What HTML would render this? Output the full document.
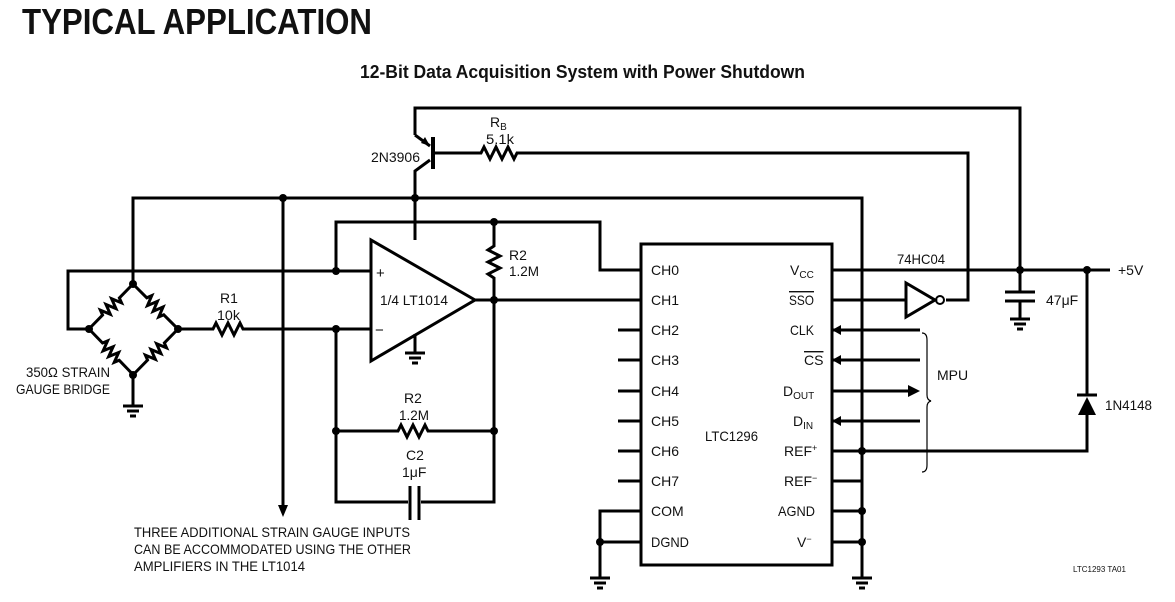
<!DOCTYPE html>
<html><head><meta charset="utf-8"><style>
html,body{margin:0;padding:0;background:#fff;}
svg{display:block;}
text{font-family:"Liberation Sans",sans-serif;fill:#111;}
</style></head><body>
<svg width="1175" height="602" viewBox="0 0 1175 602" xmlns="http://www.w3.org/2000/svg">
<defs>
<path id="arm" d="M0,0 H19.5 l2,-5 4,10 4,-10 4,10 4,-10 4,10 2,-5 H63" stroke="#000" stroke-width="3" fill="none"/>
</defs>
<text x="22" y="34" font-size="36" font-weight="bold" textLength="350" lengthAdjust="spacingAndGlyphs">TYPICAL APPLICATION</text>
<text x="360" y="78" font-size="18" font-weight="bold" textLength="445" lengthAdjust="spacingAndGlyphs">12-Bit Data Acquisition System with Power Shutdown</text>
<g stroke="#000" stroke-width="3" fill="none" stroke-linejoin="miter">
<!-- top wire -->
<polyline points="415,135 415,108 1020,108 1020,270"/>
<!-- transistor -->
<line x1="415" y1="135" x2="430" y2="146"/>
<line x1="433" y1="137" x2="433" y2="169" stroke-width="4"/>
<polyline points="430,160 415,171 415,240"/>
<polyline points="433,153 481,153 484,147 490,159 496,147 502,159 508,147 514,159 517,153 968,153 968,300 946,300"/>
<!-- y=198 bus -->
<polyline points="133,284 133,198 862,198 862,578"/>
<line x1="283" y1="198" x2="283" y2="505"/>
<!-- bridge ground -->
<polyline points="133,375 133,405"/>
<line x1="123" y1="406" x2="143" y2="406"/><line x1="127" y1="411" x2="139" y2="411"/><line x1="130" y1="416" x2="136" y2="416"/>
<!-- + input -->
<polyline points="89,329 68,329 68,271 372,271"/>
<polyline points="336,271 336,222 600,222 600,270 640,270"/>
<polyline points="494,222 494,246 488,250 500,256 488,262 500,268 488,274 494,278 494,300"/>
<!-- - input -->
<polyline points="178,329 213,329 216,323 222,335 228,323 234,335 240,323 243,329 372,329"/>
<polyline points="336,329 336,502 408,502"/>
<line x1="410" y1="486" x2="410" y2="520"/><line x1="419" y1="486" x2="419" y2="520"/>
<polyline points="421,502 494,502 494,300"/>
<polyline points="336,431 398,431 401,425 407,437 413,425 419,437 425,425 428,431 494,431"/>
<!-- opamp -->
<polygon points="371,240 371,361 475,300"/>
<line x1="475" y1="300" x2="640" y2="300"/>
<polyline points="415,334 415,352"/>
<line x1="405" y1="353" x2="425" y2="353"/><line x1="409" y1="358" x2="421" y2="358"/><line x1="412" y1="363" x2="418" y2="363"/>
<!-- chip -->
<rect x="641" y="244" width="191" height="321"/>
<line x1="618" y1="330" x2="641" y2="330"/>
<line x1="618" y1="360" x2="641" y2="360"/>
<line x1="618" y1="391" x2="641" y2="391"/>
<line x1="618" y1="421" x2="641" y2="421"/>
<line x1="618" y1="451" x2="641" y2="451"/>
<line x1="618" y1="481" x2="641" y2="481"/>
<polyline points="641,511 600,511 600,578"/>
<line x1="600" y1="542" x2="641" y2="542"/>
<line x1="590" y1="578" x2="610" y2="578"/><line x1="594" y1="583" x2="606" y2="583"/><line x1="597" y1="588" x2="603" y2="588"/>
<line x1="852" y1="578" x2="872" y2="578"/><line x1="856" y1="583" x2="868" y2="583"/><line x1="859" y1="588" x2="865" y2="588"/>
<polyline points="832,481 862,481"/>
<line x1="832" y1="511" x2="862" y2="511"/>
<line x1="832" y1="542" x2="862" y2="542"/>
<!-- right side -->
<line x1="832" y1="270" x2="1110" y2="270"/>
<line x1="832" y1="300" x2="905" y2="300"/>
<polygon points="906,283 906,317 935,300"/>
<circle cx="940" cy="300" r="4" stroke-width="2"/>
<line x1="832" y1="330" x2="920" y2="330"/>
<line x1="832" y1="360" x2="920" y2="360"/>
<line x1="832" y1="391" x2="908" y2="391"/>
<line x1="832" y1="421" x2="920" y2="421"/>
<polyline points="832,451 1087,451 1087,415"/>
<line x1="1087" y1="395" x2="1087" y2="270"/>
<line x1="1077" y1="395" x2="1097" y2="395"/>
<!-- 47uF -->
<line x1="1020" y1="270" x2="1020" y2="292"/>
<line x1="1005" y1="292" x2="1035" y2="292"/><line x1="1005" y1="301" x2="1035" y2="301"/>
<line x1="1020" y1="301" x2="1020" y2="318"/>
<line x1="1010" y1="319" x2="1030" y2="319"/><line x1="1014" y1="324" x2="1026" y2="324"/><line x1="1017" y1="329" x2="1023" y2="329"/>
</g>
<!-- bridge arms -->
<use href="#arm" transform="translate(133,284) rotate(134.4)"/>
<use href="#arm" transform="translate(133,284) rotate(45)"/>
<use href="#arm" transform="translate(89,329) rotate(46)"/>
<use href="#arm" transform="translate(178,329) rotate(134.4)"/>
<!-- brace -->
<path d="M922,333 Q927,333 927,340 L927,395 Q927,400 931,401 Q927,402 927,407 L927,465 Q927,472 922,472" stroke="#000" stroke-width="1.2" fill="none"/>
<g fill="#000">
<polygon points="1087,397 1078,415 1096,415"/>
<polygon points="832,330 841,325 841,335"/>
<polygon points="832,360 841,355 841,365"/>
<polygon points="920,391 908,385 908,397"/>
<polygon points="832,421 841,416 841,426"/>
<polygon points="283,517 278,505 288,505"/>
<polygon points="430,146 421,143 425,137"/>
<circle cx="283" cy="198" r="4"/><circle cx="415" cy="198" r="4"/>
<circle cx="133" cy="284" r="4"/><circle cx="89" cy="329" r="4"/><circle cx="178" cy="329" r="4"/><circle cx="133" cy="375" r="4"/>
<circle cx="336" cy="271" r="4"/><circle cx="336" cy="329" r="4"/><circle cx="494" cy="222" r="4"/><circle cx="494" cy="300" r="4"/>
<circle cx="336" cy="431" r="4"/><circle cx="494" cy="431" r="4"/>
<circle cx="1020" cy="270" r="4"/><circle cx="1087" cy="270" r="4"/>
<circle cx="862" cy="451" r="4"/><circle cx="862" cy="511" r="4"/><circle cx="862" cy="542" r="4"/><circle cx="600" cy="542" r="4"/>
</g>
<g font-size="14">
<text x="371" y="162" textLength="49" lengthAdjust="spacingAndGlyphs">2N3906</text>
<text x="490" y="127">R<tspan font-size="10" dy="3">B</tspan></text>
<text x="486" y="144" textLength="28" lengthAdjust="spacingAndGlyphs">5.1k</text>
<text x="509" y="260">R2</text>
<text x="509" y="276" textLength="30" lengthAdjust="spacingAndGlyphs">1.2M</text>
<text x="220" y="303">R1</text>
<text x="217" y="320" textLength="23" lengthAdjust="spacingAndGlyphs">10k</text>
<text x="380" y="305" textLength="68" lengthAdjust="spacingAndGlyphs">1/4 LT1014</text>
<text x="376" y="278" font-size="15">+</text>
<text x="375" y="335" font-size="15">−</text>
<text x="26" y="377" textLength="84" lengthAdjust="spacingAndGlyphs">350Ω STRAIN</text>
<text x="16" y="394" textLength="94" lengthAdjust="spacingAndGlyphs">GAUGE BRIDGE</text>
<text x="404" y="403">R2</text>
<text x="399" y="420" textLength="30" lengthAdjust="spacingAndGlyphs">1.2M</text>
<text x="406" y="460">C2</text>
<text x="402" y="477">1μF</text>
<text x="134" y="537" textLength="276" lengthAdjust="spacingAndGlyphs">THREE ADDITIONAL STRAIN GAUGE INPUTS</text>
<text x="134" y="554" textLength="277" lengthAdjust="spacingAndGlyphs">CAN BE ACCOMMODATED USING THE OTHER</text>
<text x="134" y="571" textLength="171" lengthAdjust="spacingAndGlyphs">AMPLIFIERS IN THE LT1014</text>
<text x="651" y="275">CH0</text><text x="651" y="305">CH1</text><text x="651" y="335">CH2</text><text x="651" y="365">CH3</text>
<text x="651" y="396">CH4</text><text x="651" y="426">CH5</text><text x="651" y="456">CH6</text><text x="651" y="486">CH7</text>
<text x="651" y="516">COM</text><text x="651" y="547" textLength="38" lengthAdjust="spacingAndGlyphs">DGND</text>
<text x="705" y="441" textLength="53" lengthAdjust="spacingAndGlyphs">LTC1296</text>
<text x="790" y="275">V<tspan font-size="10" dy="3">CC</tspan></text>
<text x="789" y="305" text-decoration="overline" textLength="25" lengthAdjust="spacingAndGlyphs">SSO</text>
<text x="790" y="335" textLength="24" lengthAdjust="spacingAndGlyphs">CLK</text>
<text x="804" y="365" text-decoration="overline">CS</text>
<text x="783" y="396">D<tspan font-size="10" dy="3">OUT</tspan></text>
<text x="793" y="426">D<tspan font-size="10" dy="3">IN</tspan></text>
<text x="784" y="456">REF<tspan font-size="9" dy="-5">+</tspan></text>
<text x="784" y="486">REF<tspan font-size="9" dy="-5">−</tspan></text>
<text x="778" y="516" textLength="37" lengthAdjust="spacingAndGlyphs">AGND</text>
<text x="797" y="547">V<tspan font-size="9" dy="-5">−</tspan></text>
<text x="897" y="264" textLength="48" lengthAdjust="spacingAndGlyphs">74HC04</text>
<text x="1046" y="305">47μF</text>
<text x="937" y="380">MPU</text>
<text x="1105" y="410" textLength="47" lengthAdjust="spacingAndGlyphs">1N4148</text>
<text x="1118" y="275">+5V</text>
<text x="1073" y="572" font-size="8">LTC1293 TA01</text>
</g>
</svg>
</body></html>
